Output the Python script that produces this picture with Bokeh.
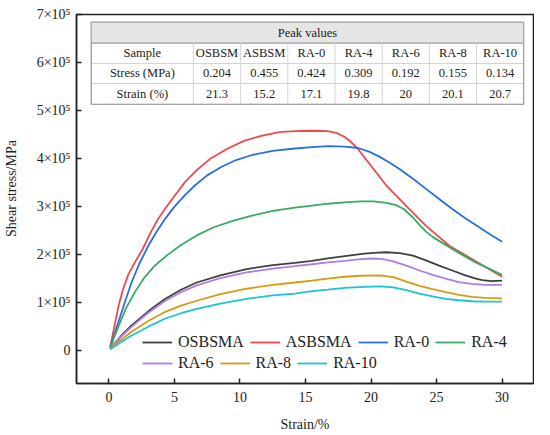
from bokeh.plotting import figure
from bokeh.models import Range1d, FixedTicker, Legend, LegendItem
from bokeh.core.properties import value
from bokeh.embed import file_html
from bokeh.resources import INLINE

FONT = "Times New Roman"

series_names = ["OSBSMA", "ASBSMA", "RA-0", "RA-4", "RA-6", "RA-8", "RA-10"]
series_colors = ["#404040", "#f04848", "#2a6fdb", "#3aa866", "#b07de6", "#d99a0f", "#18c6d2"]

strain_osbsma = [0.1, 0.6, 1.0, 1.7, 3.0, 4.3, 5.5, 6.7, 8.5, 10.5, 12.5, 14.2, 15.5, 16.7, 18.0, 19.5, 20.5, 21.2, 22.2, 23.2, 24.2, 25.2, 26.2, 27.2, 28.0, 28.5, 29.2, 30.0]
stress_osbsma = [4000, 20000, 33000, 52000, 82000, 108000, 127000, 142000, 157000, 170000, 178000, 183000, 187000, 192000, 197000, 202000, 204000, 205000, 203000, 198000, 188000, 177000, 167000, 157000, 150000, 147000, 145000, 146000]

strain_asbsma = [0.1, 0.5, 0.75, 1.1, 1.5, 2.0, 2.5, 3.2, 3.7, 4.3, 5.0, 5.8, 6.7, 7.7, 9.0, 10.3, 11.7, 13.0, 14.2, 15.5, 16.7, 17.4, 18.0, 18.5, 19.0, 20.0, 21.2, 22.7, 24.2, 26.0, 27.7, 29.0, 30.0]
stress_asbsma = [8000, 62000, 95000, 130000, 160000, 185000, 208000, 247000, 272000, 296000, 322000, 351000, 376000, 399000, 420000, 437000, 448000, 455000, 457000, 458000, 457000, 453000, 445000, 434000, 420000, 385000, 343000, 301000, 260000, 218000, 191000, 170000, 154000]

strain_ra0 = [0.1, 0.4, 0.75, 1.2, 1.7, 2.3, 3.0, 3.6, 4.3, 5.0, 5.8, 6.6, 7.5, 8.6, 9.7, 11.0, 12.5, 14.2, 15.5, 16.7, 18.0, 19.0, 19.9, 20.7, 21.4, 22.2, 23.2, 24.2, 25.2, 26.2, 27.2, 28.2, 29.1, 30.0]
stress_ra0 = [6000, 33000, 62000, 100000, 140000, 180000, 218000, 246000, 275000, 300000, 324000, 345000, 365000, 383000, 397000, 408000, 416000, 421000, 424000, 426000, 425000, 422000, 414000, 403000, 392000, 378000, 358000, 337000, 316000, 295000, 276000, 258000, 242000, 227000]

strain_ra4 = [0.1, 0.4, 0.75, 1.3, 2.0, 2.7, 3.5, 4.5, 5.5, 6.7, 8.0, 9.5, 11.0, 12.5, 14.2, 15.5, 16.7, 18.0, 19.2, 20.2, 21.2, 21.9, 22.5, 23.1, 23.7, 24.2, 24.7, 25.4, 26.2, 27.0, 27.9, 29.0, 30.0]
stress_ra4 = [5000, 28000, 52000, 88000, 123000, 152000, 177000, 200000, 220000, 240000, 257000, 271000, 282000, 291000, 298000, 302000, 306000, 309000, 311000, 311000, 308000, 303000, 295000, 280000, 262000, 248000, 237000, 225000, 212000, 199000, 185000, 171000, 158000]

strain_ra6 = [0.1, 0.6, 1.0, 1.7, 3.0, 4.3, 5.5, 6.7, 8.5, 10.5, 12.5, 14.2, 15.5, 16.7, 18.0, 19.0, 20.0, 20.8, 21.7, 22.7, 23.7, 24.7, 25.7, 26.7, 27.7, 28.7, 30.0]
stress_ra6 = [4000, 19000, 31000, 49000, 79000, 104000, 122000, 136000, 151000, 163000, 171000, 176000, 180000, 184000, 187000, 190000, 192000, 191000, 186000, 177000, 167000, 158000, 150000, 143000, 139000, 137000, 137000]

strain_ra8 = [0.1, 0.6, 1.0, 1.7, 3.0, 4.3, 5.5, 6.7, 8.5, 10.5, 12.5, 14.2, 15.5, 16.7, 18.0, 19.2, 20.2, 21.0, 21.7, 22.7, 23.7, 24.7, 25.7, 26.7, 27.7, 28.7, 30.0]
stress_ra8 = [3000, 15000, 24000, 39000, 62000, 81000, 94000, 104000, 118000, 129000, 137000, 142000, 146000, 150000, 154000, 156000, 157000, 156000, 153000, 144000, 135000, 128000, 122000, 116000, 112000, 110000, 109000]

strain_ra10 = [0.1, 0.6, 1.0, 1.7, 3.0, 4.3, 5.5, 6.7, 8.5, 10.5, 12.5, 14.2, 15.5, 16.7, 18.0, 19.5, 20.7, 21.7, 22.7, 23.7, 24.7, 25.7, 26.7, 27.7, 28.7, 30.0]
stress_ra10 = [3000, 12000, 19000, 31000, 50000, 67000, 78000, 87000, 98000, 108000, 115000, 119000, 124000, 127000, 131000, 133000, 134000, 132000, 126000, 119000, 113000, 108000, 105000, 103000, 102000, 102000]

x_ticks = [0, 5, 10, 15, 20, 25, 30]
y_ticks = [0, 100000, 200000, 300000, 400000, 500000, 600000, 700000]
y_tick_labels = ["0", "1×10⁵", "2×10⁵", "3×10⁵", "4×10⁵", "5×10⁵", "6×10⁵", "7×10⁵"]

table_title = "Peak values"
table_row_heads = ["Sample", "Stress (MPa)", "Strain (%)"]
table_samples = ["OSBSM", "ASBSM", "RA-0", "RA-4", "RA-6", "RA-8", "RA-10"]
table_stress = ["0.204", "0.455", "0.424", "0.309", "0.192", "0.155", "0.134"]
table_strain = ["21.3", "15.2", "17.1", "19.8", "20", "20.1", "20.7"]

p = figure(width=534, height=434, x_range=Range1d(-2.475, 32.4), y_range=Range1d(-68300, 700000),
           output_backend="svg", toolbar_location=None,
           min_border_left=69, min_border_right=1, min_border_top=14, min_border_bottom=49)
p.xgrid.visible = False
p.ygrid.visible = False
p.outline_line_color = "#222222"
p.outline_line_width = 1.5
p.background_fill_color = "white"

for ax in (p.xaxis[0], p.yaxis[0]):
    ax.axis_line_color = "#222222"
    ax.axis_line_width = 1.5
    ax.major_tick_in = 5
    ax.major_tick_out = 0
    ax.major_tick_line_color = "#222222"
    ax.major_tick_line_width = 1.5
    ax.minor_tick_in = 0
    ax.minor_tick_out = 0
    ax.major_label_text_font = FONT
    ax.major_label_text_font_size = "14px"
    ax.major_label_text_color = "#222222"
    ax.axis_label_text_font = FONT
    ax.axis_label_text_font_size = "14px"
    ax.axis_label_text_font_style = "normal"
    ax.axis_label_text_color = "#222222"

p.xaxis.ticker = FixedTicker(ticks=x_ticks)
p.yaxis.ticker = FixedTicker(ticks=y_ticks)
p.yaxis.major_label_overrides = {float(t): lab for t, lab in zip(y_ticks, y_tick_labels)}
p.xaxis.axis_label = "Strain/%"
p.yaxis.axis_label = "\u2002\u2002\u2002Shear stress/MPa"
p.xaxis.major_label_standoff = 8
p.xaxis.axis_label_standoff = 12
p.yaxis.major_label_standoff = 6
p.yaxis.axis_label_standoff = 15

# Table of peak values
ncol = len(table_samples)
tbl_x0, tbl_x1 = -1.35, 31.65
first_col_right = 6.45
col_w = (tbl_x1 - first_col_right) / ncol
row_y = [684000, 640500, 598000, 556400, 513000]

p.quad(left=[tbl_x0], right=[tbl_x1], top=[row_y[0]], bottom=[row_y[4]],
       fill_color="white", line_color="#a0a0a0", line_width=1)
p.quad(left=[tbl_x0], right=[tbl_x1], top=[row_y[0]], bottom=[row_y[1]],
       fill_color="#e6e6e6", line_color=None)
p.segment(x0=[tbl_x0] * 2, x1=[tbl_x1] * 2, y0=row_y[2:4], y1=row_y[2:4], line_color="#d4d4d4", line_width=1)
p.segment(x0=[tbl_x0], x1=[tbl_x1], y0=[row_y[1]], y1=[row_y[1]], line_color="#9a9a9a", line_width=1.2)
vx = [first_col_right + i * col_w for i in range(ncol)]
p.segment(x0=vx, x1=vx, y0=[row_y[1]] * ncol, y1=[row_y[4]] * ncol, line_color="#d4d4d4", line_width=1)
p.quad(left=[tbl_x0], right=[tbl_x1], top=[row_y[0]], bottom=[row_y[4]],
       fill_color=None, line_color="#a0a0a0", line_width=1)

txt_kw = dict(text_font=value(FONT), text_font_size="12.5px", text_align="center",
              text_baseline="middle", text_color="#222222")
p.text(x=[(tbl_x0 + tbl_x1) / 2], y=[(row_y[0] + row_y[1]) / 2], text=[table_title], **txt_kw)
row_mid = [(row_y[i] + row_y[i + 1]) / 2 for i in range(1, 4)]
p.text(x=[(tbl_x0 + first_col_right) / 2] * 3, y=row_mid, text=table_row_heads, **txt_kw)
col_mid = [first_col_right + (i + 0.5) * col_w for i in range(ncol)]
for vals, ym in zip([table_samples, table_stress, table_strain], row_mid):
    p.text(x=col_mid, y=[ym] * ncol, text=vals, **txt_kw)

# Curves
strains = [strain_osbsma, strain_asbsma, strain_ra0, strain_ra4, strain_ra6, strain_ra8, strain_ra10]
stresses = [stress_osbsma, stress_asbsma, stress_ra0, stress_ra4, stress_ra6, stress_ra8, stress_ra10]
renderers = []
for xs, ys, c in zip(strains, stresses, series_colors):
    renderers.append(p.line(xs, ys, line_color=c, line_width=1.8))

def make_legend(idx, loc):
    lg = Legend(items=[LegendItem(label=series_names[i], renderers=[renderers[i]]) for i in idx],
                location=loc, orientation="horizontal", padding=0, margin=0, spacing=6,
                glyph_width=30, glyph_height=20, label_height=20, label_standoff=6,
                label_text_font=FONT, label_text_font_size="16px", label_text_color="#222222",
                border_line_color=None, background_fill_alpha=0)
    p.add_layout(lg, "center")

make_legend([0, 1, 2, 3], (66, 31))
make_legend([4, 5, 6], (66, 10))

open("out.html", "w").write(file_html(p, INLINE))
